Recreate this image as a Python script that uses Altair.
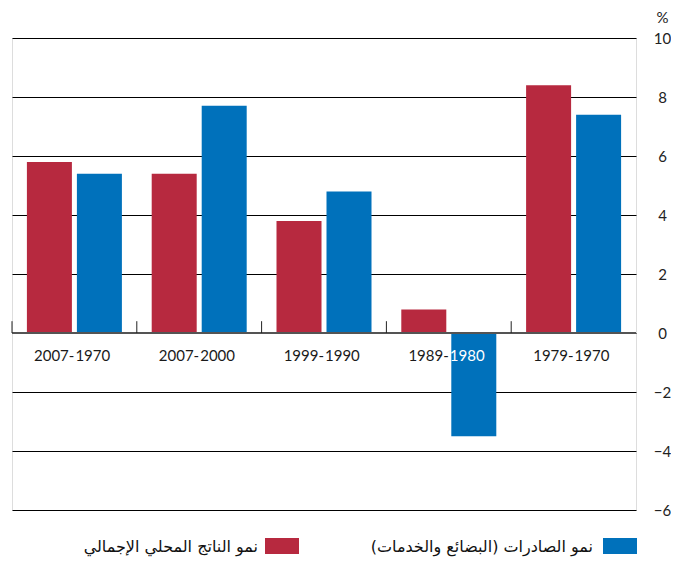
import altair as alt
import pandas as pd

categories = ["2007-1970", "2007-2000", "1999-1990", "1989-1980", "1979-1970"]
gdp_growth = [5.8, 5.4, 3.8, 0.8, 8.4]
export_growth = [5.4, 7.7, 4.8, -3.5, 7.4]
series_names = ["نمو الناتج المحلي الإجمالي", "نمو الصادرات (البضائع والخدمات)"]
series_colors = ["#B7293F", "#0071BB"]
y_ticks = [-6, -4, -2, 0, 2, 4, 6, 8, 10]

rows = []
for c, g, e in zip(categories, gdp_growth, export_growth):
    rows.append({"cat": c, "series": series_names[0], "value": g})
    rows.append({"cat": c, "series": series_names[1], "value": e})
bars_df = pd.DataFrame(rows)

lab_rows = []
for c, e in zip(categories, export_growth):
    left, right = c.split("-")
    lab_rows.append({"cat": c, "left": left + "-", "right": right,
                     "rcol": "white" if e < 0 else "#1a1a1a"})
lab_df = pd.DataFrame(lab_rows)
cat_df = pd.DataFrame({"cat": categories})

W, H = 624, 472
FONT = "Lato"
AR_FONT = "DejaVu Sans"

xscale = alt.Scale(domain=categories, paddingInner=0, paddingOuter=0)
yscale = alt.Scale(domain=[-6, 10], nice=False)

bars = alt.Chart(bars_df).mark_bar().encode(
    x=alt.X("cat:N", scale=xscale, sort=categories, axis=None),
    xOffset=alt.XOffset("series:N", sort=series_names,
                        scale=alt.Scale(domain=series_names, paddingInner=0.1, paddingOuter=0.298)),
    y=alt.Y("value:Q", scale=yscale,
            axis=alt.Axis(orient="right", values=y_ticks, grid=True, gridColor="#000000",
                          gridWidth=1, gridOpacity=1, ticks=False, domain=False,
                          labelFont=FONT, labelFontSize=15, labelColor="#222222",
                          labelAlign="center", labelPadding=26, labelBaseline="middle",
                          title="%", titleAngle=0, titleX=26, titleY=-21,
                          titleAlign="center", titleBaseline="middle",
                          titleFont=FONT, titleFontSize=15, titleFontWeight="normal",
                          titleColor="#222222")),
    y2=alt.datum(0),
    color=alt.Color("series:N", scale=alt.Scale(domain=series_names, range=series_colors), legend=None),
)

zero = alt.Chart(cat_df).mark_rule(color="#555555", strokeWidth=1.3).encode(
    y=alt.datum(0),
)

ticks = alt.Chart(cat_df).mark_rule(color="#222222", strokeWidth=1).encode(
    x=alt.X("cat:N", scale=xscale, sort=categories, bandPosition=0, axis=None),
    y=alt.datum(0),
    y2=alt.datum(0.4),
)

left_lab = alt.Chart(lab_df).mark_text(font=FONT, fontSize=15, align="right", baseline="middle",
                                       dy=23, dx=0, color="#1a1a1a").encode(
    x=alt.X("cat:N", scale=xscale, sort=categories, axis=None),
    y=alt.datum(0),
    text="left:N",
)
right_lab = alt.Chart(lab_df).mark_text(font=FONT, fontSize=15, align="left", baseline="middle",
                                        dy=23, dx=1).encode(
    x=alt.X("cat:N", scale=xscale, sort=categories, axis=None),
    y=alt.datum(0),
    text="right:N",
    color=alt.Color("rcol:N", scale=None),
)

# legend (drawn manually, right-to-left)
leg_df = pd.DataFrame({"series": series_names, "color": series_colors})
leg_red_box = alt.Chart(leg_df.iloc[[0]]).mark_rect().encode(
    x=alt.value(253), x2=alt.value(287), y=alt.value(500), y2=alt.value(516),
    color=alt.Color("color:N", scale=None))
leg_blue_box = alt.Chart(leg_df.iloc[[1]]).mark_rect().encode(
    x=alt.value(591), x2=alt.value(625), y=alt.value(500), y2=alt.value(516),
    color=alt.Color("color:N", scale=None))
leg_red_txt = alt.Chart(leg_df.iloc[[0]]).mark_text(font=AR_FONT, fontSize=16, align="right",
                                                    baseline="middle", color="#111111").encode(
    x=alt.value(246), y=alt.value(509), text="series:N")
leg_blue_txt = alt.Chart(leg_df.iloc[[1]]).mark_text(font=AR_FONT, fontSize=16, align="right",
                                                     baseline="middle", color="#111111").encode(
    x=alt.value(581), y=alt.value(509), text="series:N")

chart = alt.layer(
    bars, zero, ticks, left_lab, right_lab,
    leg_red_box, leg_blue_box, leg_red_txt, leg_blue_txt
).properties(
    width=W, height=H,
    autosize=alt.AutoSizeParams(type="none"),
    padding={"left": 4, "top": 30, "right": 35, "bottom": 48},
).configure_view(
    stroke="#222222", strokeWidth=1
).configure(background="white")

chart.save("out.html", embed_options={"renderer": "svg", "actions": False})
